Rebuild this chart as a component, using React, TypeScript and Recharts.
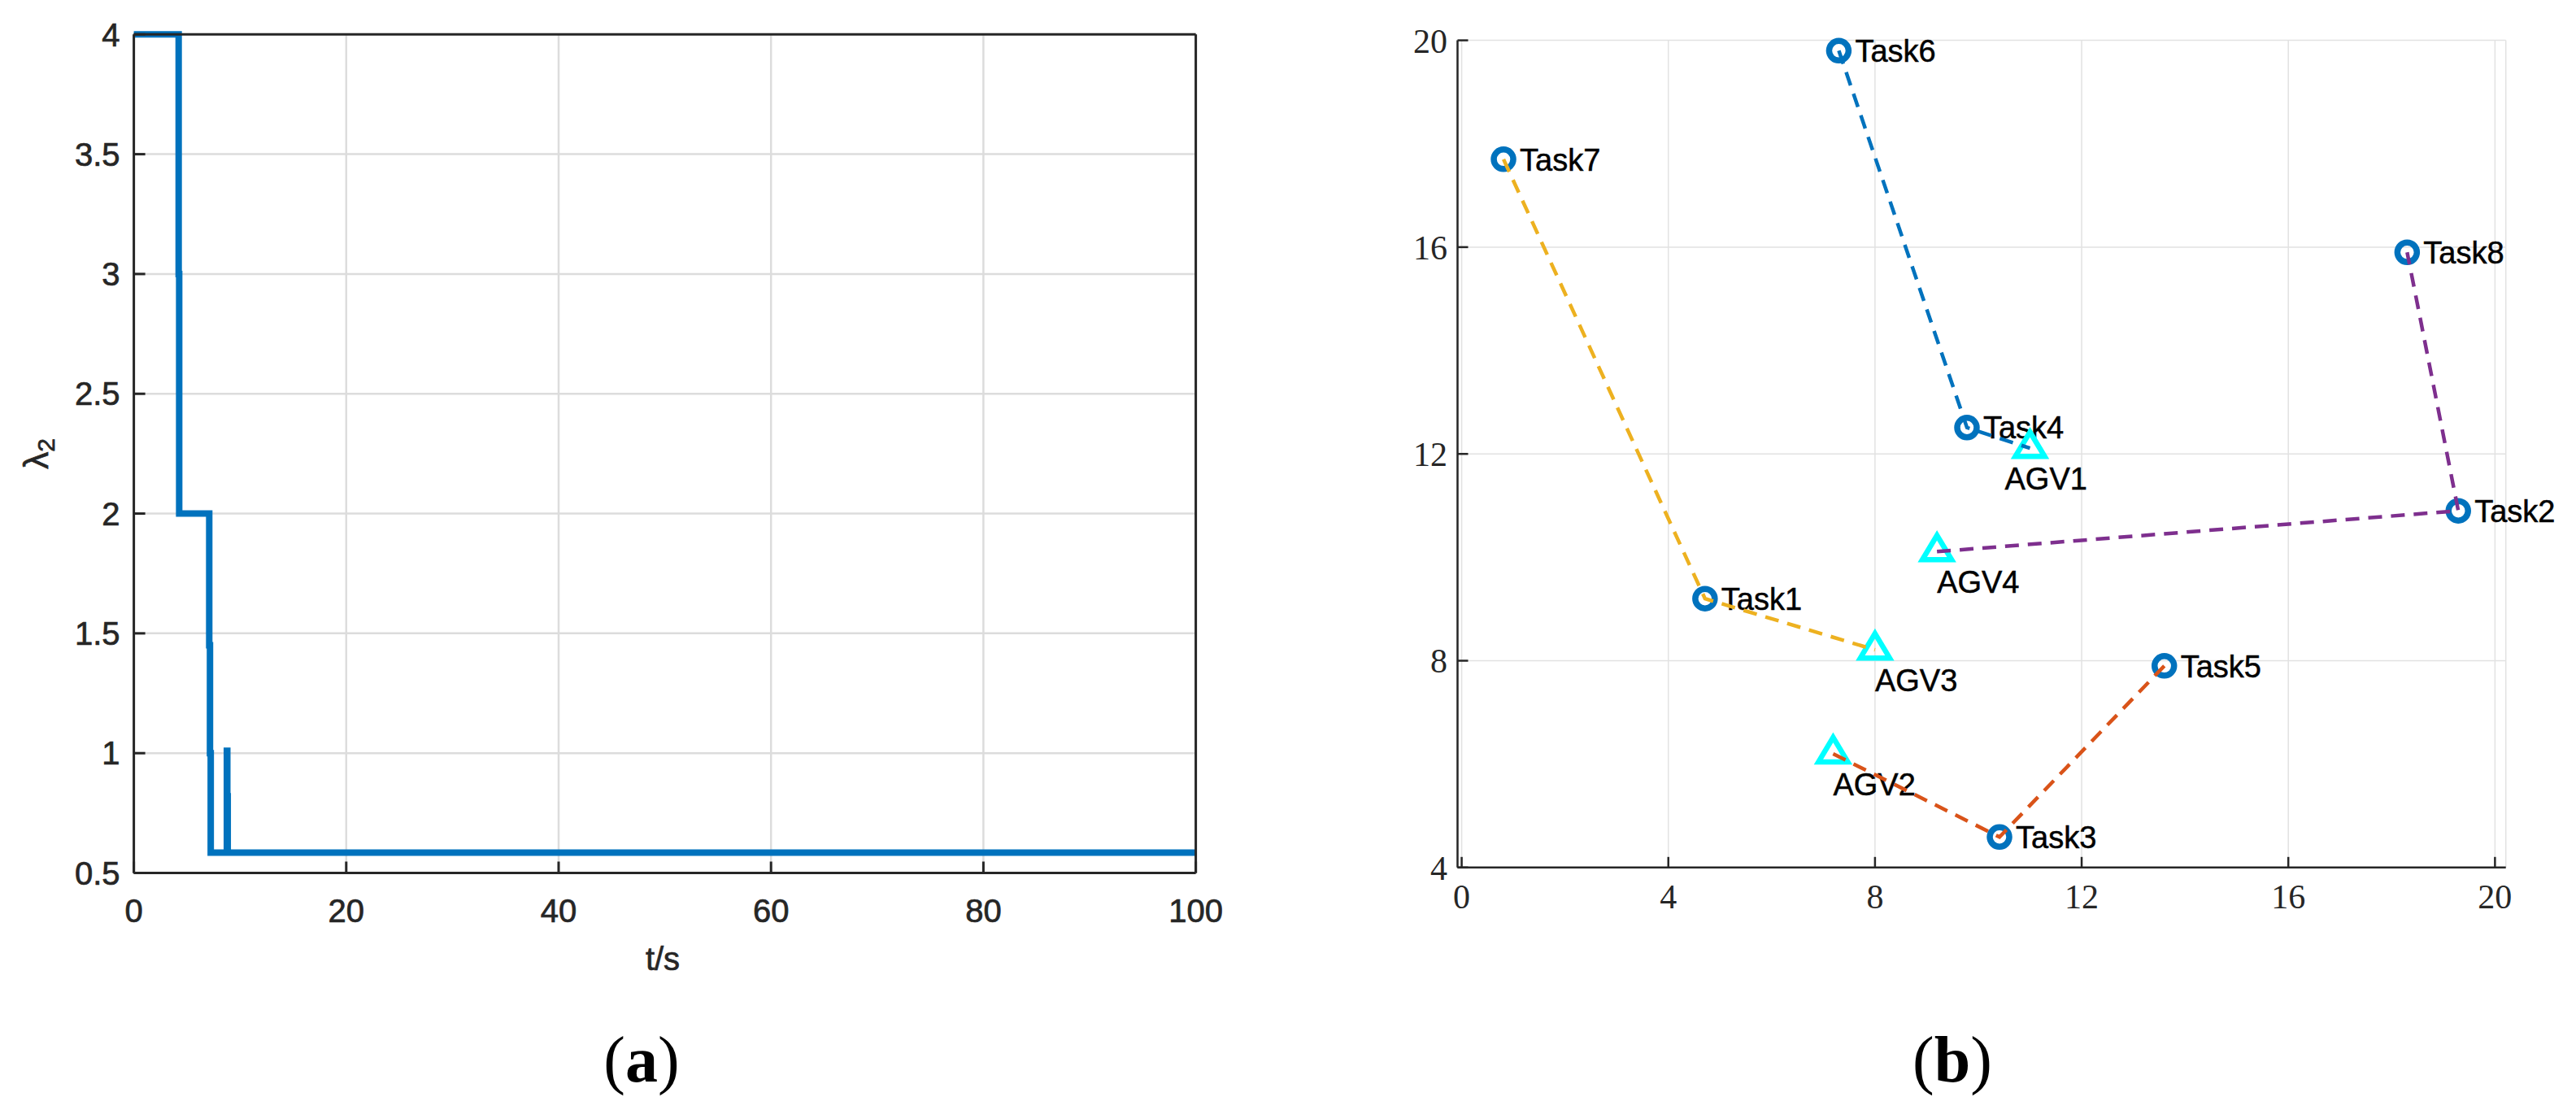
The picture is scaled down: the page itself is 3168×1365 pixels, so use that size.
import React from 'react';
import {
  LineChart,
  Line,
  ScatterChart,
  Scatter,
  XAxis,
  YAxis,
  CartesianGrid,
} from 'recharts';

// (a) algebraic connectivity lambda_2 over time
const timeS = [0, 4.22, 4.22, 4.27, 4.27, 7.1, 7.1, 7.17, 7.17, 7.24, 7.24, 8.76, 8.76, 8.8, 8.8, 8.84, 8.84, 100];
const lambda2 = [4, 4, 3, 3, 2, 2, 1.45, 1.45, 1, 1, 0.585, 0.585, 1.01, 1.01, 0.82, 0.82, 0.585, 0.585];
const timeTicks = [0, 20, 40, 60, 80, 100];
const lambdaTicks = [0.5, 1, 1.5, 2, 2.5, 3, 3.5, 4];

// (b) task / AGV positions
const taskNames = ['Task1', 'Task2', 'Task3', 'Task4', 'Task5', 'Task6', 'Task7', 'Task8'];
const taskX = [4.71, 19.29, 10.41, 9.78, 13.6, 7.3, 0.81, 18.3];
const taskY = [9.2, 10.9, 4.59, 12.51, 7.9, 19.8, 17.7, 15.9];
const agvNames = ['AGV1', 'AGV2', 'AGV3', 'AGV4'];
const agvX = [11.0, 7.19, 8.0, 9.2];
const agvY = [12.11, 6.2, 8.21, 10.11];
const routes = [
  ['Task6', 'Task4', 'AGV1'],
  ['AGV2', 'Task3', 'Task5'],
  ['Task7', 'Task1', 'AGV3'],
  ['AGV4', 'Task2', 'Task8'],
];
const posTicks = [0, 4, 8, 12, 16, 20];
const posYTicks = [4, 8, 12, 16, 20];

const routeColors = ['#0072BD', '#D95319', '#EDB120', '#7E2F8E'];
const agvLabelShift: Record<string, number> = { AGV1: -31 };

const lambdaData = timeS.map((t, i) => ({ t, v: lambda2[i] }));
const taskData = taskNames.map((name, i) => ({ name, x: taskX[i], y: taskY[i] }));
const agvData = agvNames.map((name, i) => ({ name, x: agvX[i], y: agvY[i] }));
const allPoints = [...taskData, ...agvData];
const routeData = routes.map((r) => r.map((n) => allPoints.find((p) => p.name === n)!));

const AX = '#262626';
const sans = '"Liberation Sans", Arial, sans-serif';
const serif = '"Liberation Serif", "Times New Roman", serif';

const TaskShape = (props: any) => {
  const { cx, cy, payload } = props;
  return (
    <g>
      <circle cx={cx} cy={cy} r={12} fill="none" stroke="#0072BD" strokeWidth={7.5} />
      <text
        x={cx + 20}
        y={cy}
        dy="0.36em"
        fontFamily={sans}
        fontSize={38}
        fill="#000"
        stroke="#000"
        strokeWidth={0.5}
      >
        {payload.name}
      </text>
    </g>
  );
};

const AgvShape = (props: any) => {
  const { cx, cy, payload } = props;
  const dx = agvLabelShift[payload.name] || 0;
  return (
    <g>
      <path
        d={`M${cx},${cy - 20} L${cx + 18},${cy + 10} L${cx - 18},${cy + 10} Z`}
        fill="none"
        stroke="#00FFFF"
        strokeWidth={6.5}
        strokeLinejoin="miter"
      />
      <text
        x={cx + dx}
        y={cy + 37}
        dy="0.36em"
        fontFamily={sans}
        fontSize={38}
        fill="#000"
        stroke="#000"
        strokeWidth={0.5}
      >
        {payload.name}
      </text>
    </g>
  );
};

const noShape = () => <g />;

const abs = (left: number, top: number): React.CSSProperties => ({
  position: 'absolute',
  left,
  top,
  transform: 'translate(-50%, -50%)',
  whiteSpace: 'nowrap',
  lineHeight: 1,
});

const leftTick = { fontFamily: sans, fontSize: 40, fill: AX, stroke: AX, strokeWidth: 0.7 };
const rightTick = { fontFamily: serif, fontSize: 42, fill: AX };

export default function App() {
  return (
    <div style={{ position: 'absolute', left: 0, top: 0, width: 3168, height: 1365, background: '#fff' }}>
      <div style={{ position: 'absolute', left: 0, top: 0 }}>
        <LineChart
          width={1600}
          height={1365}
          data={lambdaData}
          margin={{ top: 41.3, right: 128.4, bottom: 290.5, left: 163.6 }}
        >
          <CartesianGrid stroke="#dcdcdc" strokeWidth={2.5} />
          <XAxis
            dataKey="t"
            type="number"
            domain={[0, 100]}
            ticks={timeTicks}
            height={1}
            tickSize={-14}
            tickMargin={46}
            axisLine={{ stroke: AX, strokeWidth: 3 }}
            tickLine={{ stroke: AX, strokeWidth: 3 }}
            tick={leftTick}
          />
          <XAxis
            xAxisId="top"
            orientation="top"
            type="number"
            domain={[0, 100]}
            ticks={timeTicks}
            height={1}
            tickSize={-14}
            axisLine={{ stroke: AX, strokeWidth: 3 }}
            tickLine={{ stroke: AX, strokeWidth: 3 }}
            tick={false}
          />
          <YAxis
            type="number"
            domain={[0.5, 4]}
            ticks={lambdaTicks}
            width={1}
            tickSize={-14}
            tickMargin={31}
            axisLine={{ stroke: AX, strokeWidth: 3 }}
            tickLine={{ stroke: AX, strokeWidth: 3 }}
            tick={leftTick}
          />
          <YAxis
            yAxisId="right"
            orientation="right"
            type="number"
            domain={[0.5, 4]}
            ticks={lambdaTicks}
            width={1}
            tickSize={-14}
            axisLine={{ stroke: AX, strokeWidth: 3 }}
            tickLine={{ stroke: AX, strokeWidth: 3 }}
            tick={false}
          />
          <Line
            type="linear"
            dataKey="v"
            stroke="#0072BD"
            strokeWidth={8}
            dot={false}
            activeDot={false}
            isAnimationActive={false}
          />
        </LineChart>
      </div>

      <div style={{ ...abs(815, 1179), fontFamily: sans, fontSize: 40, color: AX, WebkitTextStroke: `0.7px ${AX}` }}>
        t/s
      </div>
      <svg
        width={100}
        height={100}
        style={{ position: 'absolute', left: 46 - 50, top: 558 - 50, overflow: 'visible' }}
      >
        <text
          x={50}
          y={50}
          transform="rotate(-90 50 50)"
          textAnchor="middle"
          dy="0.3em"
          fontFamily={sans}
          fontSize={42}
          fill={AX}
          stroke={AX}
          strokeWidth={0.7}
        >
          λ<tspan fontSize={30} dy={8}>2</tspan>
        </text>
      </svg>
      <div style={{ ...abs(789, 1303), fontFamily: serif, fontSize: 80, color: '#000' }}>
        (<b>a</b>)
      </div>

      <div style={{ position: 'absolute', left: 1700, top: 0 }}>
        <ScatterChart
          width={1468}
          height={1365}
          margin={{ top: 49.6, right: 86.3, bottom: 297.2, left: 91.5 }}
        >
          <CartesianGrid stroke="#e2e2e2" strokeWidth={1.5} />
          <XAxis
            dataKey="x"
            type="number"
            domain={[-0.08, 20.21]}
            ticks={posTicks}
            height={1}
            tickSize={-13}
            tickMargin={33}
            axisLine={{ stroke: AX, strokeWidth: 2.5 }}
            tickLine={{ stroke: AX, strokeWidth: 2.5 }}
            tick={rightTick}
          />
          <YAxis
            dataKey="y"
            type="number"
            domain={[4, 20]}
            ticks={posYTicks}
            width={1}
            tickSize={-13}
            tickMargin={25.5}
            axisLine={{ stroke: AX, strokeWidth: 2.5 }}
            tickLine={{ stroke: AX, strokeWidth: 2.5 }}
            tick={rightTick}
          />
          <Scatter data={taskData} shape={TaskShape} isAnimationActive={false} />
          <Scatter data={agvData} shape={AgvShape} isAnimationActive={false} />
          {routeData.map((pts, i) => (
            <Scatter
              key={i}
              data={pts}
              shape={noShape}
              line={{ stroke: routeColors[i], strokeWidth: 4.5, strokeDasharray: '17 11' }}
              isAnimationActive={false}
            />
          ))}
        </ScatterChart>
      </div>

      <div style={{ ...abs(2401, 1303), fontFamily: serif, fontSize: 80, color: '#000' }}>
        (<b>b</b>)
      </div>
    </div>
  );
}
